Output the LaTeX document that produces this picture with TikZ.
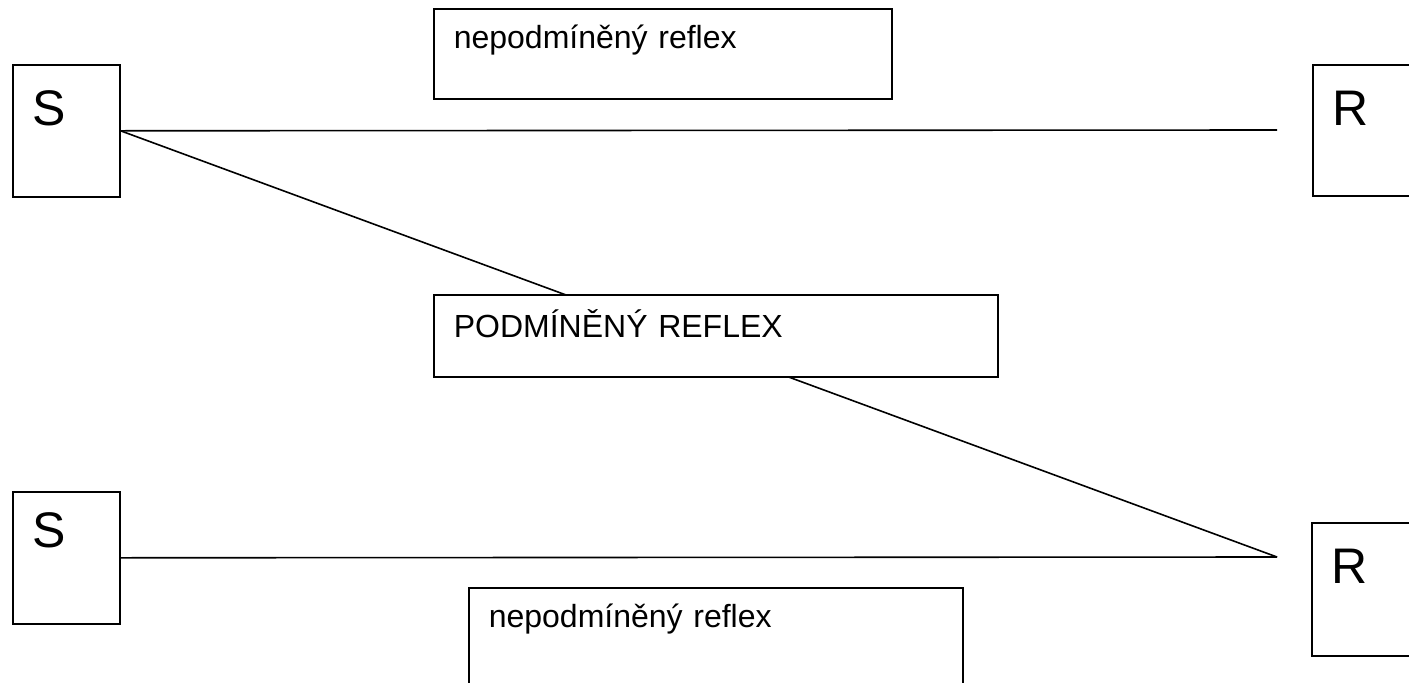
\documentclass[tikz,border=0pt]{standalone}
\usepackage{fontspec}
\setmainfont{Liberation Sans}
\usepackage{tikz}
\tikzstyle{Box}=[rectangle, draw=black, line width=1.6pt, anchor=north west, inner sep=0pt, align=left, fill=white]
\tikzstyle{Cell}=[Box, inner xsep=20pt, text width=67pt, font=\fontsize{50}{60}\selectfont]
\tikzstyle{Note}=[Box, inner xsep=20pt, font=\fontsize{32}{38}\selectfont]

\begin{document}
\begin{tikzpicture}[x=1pt, y=-1pt, line width=1.6pt]
    \useasboundingbox (0,0) rectangle (1409,683);
    \clip (0,0) rectangle (1409,683);
    \path
    (12,64) node[Cell, text height=61pt, text depth=71pt] (s1) {S}
    (1312,64) node[Cell, text height=61pt, text depth=70pt] (r1) {R}
    (12,491) node[Cell, text height=56pt, text depth=76pt] (s2) {S}
    (1311,522) node[Cell, text height=61pt, text depth=72pt] (r2) {R}
    (433,8) node[Note, text width=418pt, text height=40pt, text depth=50pt] (nr1) {nepodmíněný reflex}
    (468,587) node[Note, text width=454pt, text height=40pt, text depth=70pt] (nr2) {nepodmíněný reflex};
    \coordinate (e1) at (1277,130);
    \coordinate (e2) at (1277,557);

    \draw (s1.east) -- (e1);
    \draw (s1.east) -- (e2);
    \draw (s2.east) -- (e2);

    \path (433,294) node[Note, text width=524pt, text height=43pt, text depth=39pt] (pr) {PODMÍNĚNÝ REFLEX};
\end{tikzpicture}
\end{document}
